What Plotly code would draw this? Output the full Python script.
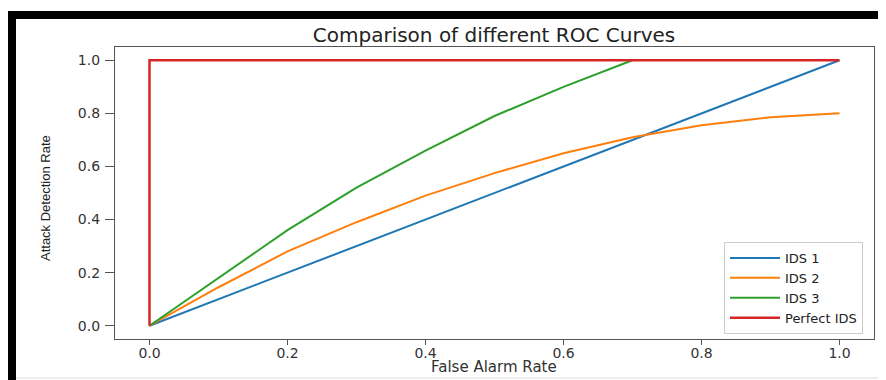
import plotly.graph_objects as go

# ---- data ----
ids1_x = [0.0, 1.0]
ids1_y = [0.0, 1.0]

ids2_x = [0.0, 0.1, 0.2, 0.3, 0.4, 0.5, 0.6, 0.7, 0.8, 0.9, 1.0]
ids2_y = [0.0, 0.145, 0.28, 0.39, 0.49, 0.575, 0.65, 0.71, 0.755, 0.785, 0.80]

ids3_x = [0.0, 0.1, 0.2, 0.3, 0.4, 0.5, 0.6, 0.7]
ids3_y = [0.0, 0.18, 0.36, 0.52, 0.66, 0.79, 0.90, 1.0]

perfect_x = [0.0, 0.0, 1.0]
perfect_y = [0.0, 1.0, 1.0]

tick_vals = [0.0, 0.2, 0.4, 0.6, 0.8, 1.0]
tick_text = ["0.0", "0.2", "0.4", "0.6", "0.8", "1.0"]

# page body has an 8px margin: figure coordinates = screen coordinates - 8
OFF = 8
W, H = 886 - OFF, 380 - OFF
L, T = 115 - OFF, 47 - OFF
R = W - (874 - OFF)
B = H - (339 - OFF)
PW, PH = W - L - R, H - T - B


def px(x):
    return (x - OFF - L) / PW


def py(y):
    return (H - B - (y - OFF)) / PH


fig = go.Figure()
series = [
    ("IDS 1", ids1_x, ids1_y, "#1f77b4", 2),
    ("IDS 2", ids2_x, ids2_y, "#ff7f0e", 2),
    ("IDS 3", ids3_x, ids3_y, "#2ca02c", 2),
    ("Perfect IDS", perfect_x, perfect_y, "#d62728", 2.5),
]
for name, xs, ys, c, w in series:
    fig.add_trace(go.Scatter(x=xs, y=ys, mode="lines", name=name,
                             line=dict(color=c, width=w)))

tickfont = dict(family="DejaVu Sans", size=14, color="#333")
fig.update_xaxes(range=[-0.05, 1.05], tickvals=tick_vals, ticktext=tick_text,
                 showgrid=False, zeroline=False, showline=True, mirror=True,
                 linecolor="#555", linewidth=1.2, ticks="outside", ticklen=5,
                 tickcolor="#555", tickfont=tickfont, ticklabelstandoff=-4)
fig.update_yaxes(range=[-0.05, 1.05], tickvals=tick_vals, ticktext=tick_text,
                 showgrid=False, zeroline=False, showline=True, mirror=True,
                 linecolor="#555", linewidth=1.2, ticks="outside", ticklen=9,
                 tickcolor="#555", tickfont=tickfont, ticklabelstandoff=2)

shapes = [
    # black frame (left and top)
    dict(type="rect", xref="paper", yref="paper", x0=px(8), x1=px(16), y0=py(380), y1=py(11),
         fillcolor="black", line=dict(width=0), layer="above"),
    dict(type="rect", xref="paper", yref="paper", x0=px(8), x1=px(886), y0=py(19), y1=py(11),
         fillcolor="black", line=dict(width=0), layer="above"),
    # faint bottom line
    dict(type="line", xref="paper", yref="paper", x0=px(16), x1=px(886), y0=py(378), y1=py(378),
         line=dict(color="#dddddd", width=1)),
]

annotations = [
    dict(text="Attack Detection Rate", xref="paper", yref="paper", x=px(45), y=py(198),
         textangle=-90, showarrow=False, xanchor="center", yanchor="middle",
         font=dict(family="Liberation Sans", size=13, color="#222")),
    dict(text="False Alarm Rate", xref="paper", yref="paper", x=px(494), y=py(367),
         showarrow=False, xanchor="center", yanchor="middle",
         font=dict(family="DejaVu Sans", size=15, color="#333")),
]

fig.update_layout(
    width=W, height=H,
    margin=dict(l=L, r=R, t=T, b=B),
    paper_bgcolor="white", plot_bgcolor="white",
    title=dict(text="Comparison of different ROC Curves", x=px(494), xref="paper",
               xanchor="center", y=1 - (35 - OFF) / H, yanchor="middle",
               font=dict(family="DejaVu Sans", size=20, color="#222")),
    legend=dict(x=px(863), y=py(334), xanchor="right", yanchor="bottom",
                bgcolor="rgba(255,255,255,0.85)", bordercolor="#cccccc", borderwidth=1,
                font=dict(family="DejaVu Sans", size=13, color="#222"),
                tracegroupgap=0, itemwidth=50),
    shapes=shapes,
    annotations=annotations,
    showlegend=True,
)

fig.write_html("out.html")
